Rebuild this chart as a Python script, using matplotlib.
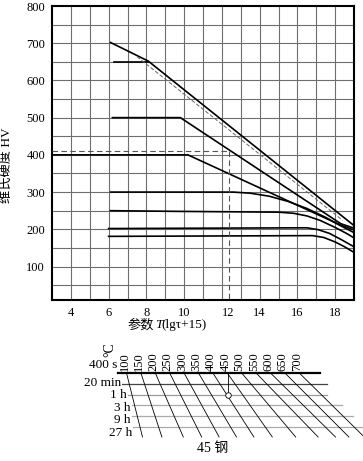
"""
Hardness of 45 steel vs tempering parameter T(lg t + 15), with time/temperature nomogram
"""

import matplotlib.pyplot as plt

plt.rcParams["font.family"] = ["Liberation Serif", "Noto Sans CJK SC"]

# hardness curves (x = parameter, y = HV)
top_x = [6.1, 8.1, 19.0]
top_y = [702, 652, 210]
c650_x = [6.3, 8.1]
c650_y = [650, 650]
c500_x = [6.2, 9.8, 18.3, 19.0]
c500_y = [500, 500, 215, 203]
c400_x = [3.0, 10.2, 18.3, 19.0]
c400_y = [400, 400, 211, 198]
c300_x = [6.1, 12.6, 13.5, 14.5, 15.5, 16.5, 17.5, 18.2, 19.0]
c300_y = [300, 300, 297, 289, 275, 256, 232, 212, 191]
c250_x = [6.1, 10.0, 15.0, 15.8, 16.5, 17.2, 18.0, 18.6, 19.0]
c250_y = [250, 248, 246, 243, 236, 224, 205, 189, 177]
c200_x = [6.0, 16.5, 17.1, 17.7, 18.3, 19.0]
c200_y = [202, 204, 199, 189, 173, 153]
c180_x = [6.0, 16.8, 17.4, 18.0, 18.5, 19.0]
c180_y = [181, 183, 178, 166, 153, 138]

# thin dashed line along the top curve
ref_x = [7.5, 18.4]
ref_y = [664, 224]

# reading example: HV 410 -> parameter 12.4
read_hv = 410
read_t = 12.4

x_ticks = [4, 6, 8, 10, 12.35, 14, 16, 18]
x_labels = ["4", "6", "8", "10", "12", "14", "16", "18"]
y_ticks = [100, 200, 300, 400, 500, 600, 700, 800]

# nomogram
temps = [100, 150, 200, 250, 300, 350, 400, 450, 500, 550, 600, 650, 700]
times = ["20 min", "1 h", "3 h", "9 h", "27 h"]
base_time = "400 s"
marked_temp = 450
marked_row = 1


def plot():
    fig = plt.figure(figsize=(3.63, 4.61), dpi=100)
    fig.patch.set_facecolor("white")

    ax = fig.add_axes([52 / 363, 1 - 300 / 461, 302 / 363, 294 / 461])
    ax.set_xlim(3, 19)
    ax.set_ylim(10, 800)

    # grid every 1 unit / 50 HV
    for gx in range(4, 19):
        ax.axvline(gx, color="#6e6e6e", linewidth=0.8, zorder=1)
    for gy in range(50, 800, 50):
        ax.axhline(gy, color="#6e6e6e", linewidth=0.8, zorder=1)

    ax.set_xticks(x_ticks)
    ax.set_xticklabels(x_labels)
    ax.set_yticks(y_ticks)
    ax.tick_params(which="both", length=0, labelsize=9, pad=5)
    for s in ax.spines.values():
        s.set_linewidth(1.5)

    for xs, ys in [
        (top_x, top_y),
        (c650_x, c650_y),
        (c500_x, c500_y),
        (c400_x, c400_y),
        (c300_x, c300_y),
        (c250_x, c250_y),
        (c200_x, c200_y),
        (c180_x, c180_y),
    ]:
        ax.plot(xs, ys, color="black", linewidth=1.2, zorder=3)

    ax.plot(ref_x, ref_y, color="#666666", linewidth=0.7, linestyle=(0, (4, 2)), zorder=3)
    ax.plot([3, read_t], [read_hv, read_hv], color="#555555", linewidth=0.8,
            linestyle=(0, (5, 3)), zorder=3)
    ax.plot([read_t, read_t], [read_hv, 10], color="#555555", linewidth=0.8,
            linestyle=(0, (5, 3)), zorder=3)

    ax.set_ylabel("维氏硬度 HV", fontsize=9.5)
    ax.yaxis.set_label_coords(-0.13, 0.46)

    # nomogram and x label drawn in pixel space
    nm = fig.add_axes([0, 0, 1, 1])
    nm.set_xlim(0, 363)
    nm.set_ylim(461, 0)
    nm.axis("off")

    # x label: 参数 T(lgτ+15) with italic T
    nm.text(154, 325, "参数", ha="right", va="center", fontsize=9.5)
    nm.text(155, 325, "T", ha="left", va="center", fontsize=9.5, style="italic")
    nm.text(161, 325, "(lgτ+15)", ha="left", va="center", fontsize=9.5)

    base_y = 373
    row_gap = 10.8
    col0 = 124.5
    col_gap = 14.4
    bottom_y = 437
    diag_shift = [16, 21, 28, 32, 35, 38, 41, 45, 54, 62, 65, 64, 65]
    row_left = [122, 128, 132, 132, 133]
    row_right = [327, 327, 342, 353, 363]
    row_color = ["#444444", "#999999", "#aaaaaa", "#aaaaaa", "#aaaaaa"]

    nm.plot([118, 320], [base_y, base_y], color="black", linewidth=1.6)
    nm.text(117, 365, base_time, ha="right", va="center", fontsize=9.5)
    nm.text(110, 350, "°C", rotation=90, ha="center", va="center", fontsize=10)

    for i, t in enumerate(temps):
        cx = col0 + col_gap * i
        nm.text(cx, base_y - 2, str(t), rotation=90, ha="center", va="bottom",
                fontsize=9)
        top = cx + 2
        nm.plot([top, top + diag_shift[i]], [base_y, bottom_y], color="black",
                linewidth=0.6)

    for k, label in enumerate(times):
        ry = base_y + row_gap * (k + 1)
        nm.plot([row_left[k], row_right[k]], [ry, ry], color=row_color[k],
                linewidth=0.9, zorder=1)
        nm.text(row_left[k] - 1, 383 + 12.4 * k, label, ha="right", va="center",
                fontsize=9.5)

    mi = temps.index(marked_temp)
    mx = col0 + col_gap * mi + 2.5
    my = base_y + row_gap * (marked_row + 1)
    nm.plot([mx, mx], [base_y, my - 2], color="black", linewidth=0.6)
    nm.plot([mx], [my + 0.5], marker="o", markersize=4, markerfacecolor="white",
            markeredgecolor="black", markeredgewidth=0.6)

    nm.text(213, 448, "45 钢", ha="center", va="center", fontsize=10)

    plt.savefig("out.png", dpi=100)


if __name__ == "__main__":
    plot()
